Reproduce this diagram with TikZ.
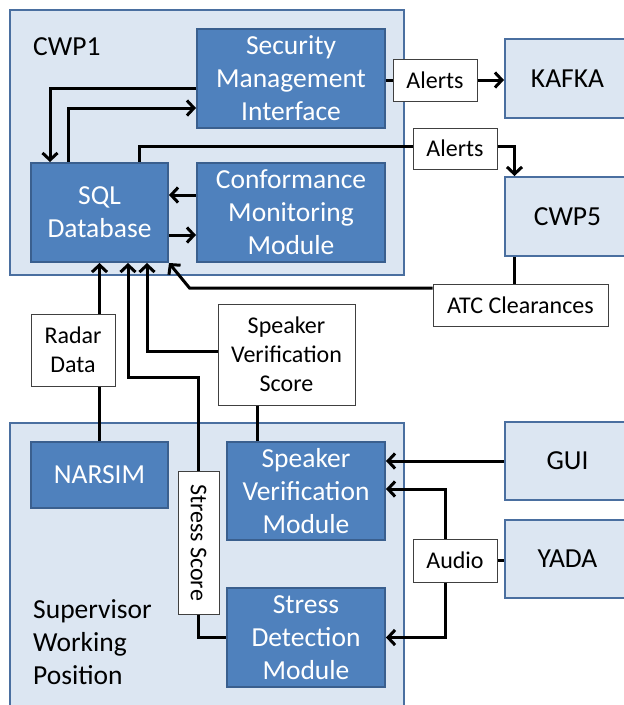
\documentclass[tikz,border=0pt]{standalone}
\usepackage{fontspec}
\setmainfont{Carlito}
\usetikzlibrary{arrows.meta}

\definecolor{modblue}{HTML}{4F81BD}
\definecolor{modframe}{HTML}{3A5F8E}
\definecolor{paleblue}{HTML}{DCE6F2}
\definecolor{paleframe}{HTML}{4A6FA0}
\definecolor{taggray}{HTML}{404040}

\newcommand{\boxfont}{\fontsize{27.5}{33}\selectfont}
\newcommand{\tagfont}{\fontsize{24}{29}\selectfont}

\tikzset{
  areabox/.style={draw=paleframe, fill=paleblue, line width=2.5pt, inner sep=0pt},
  modbox/.style={draw=modframe, fill=modblue, line width=2pt, text=white,
    align=center, font=\boxfont, inner sep=0pt},
  extbox/.style={draw=paleframe, fill=paleblue, line width=2pt,
    font=\boxfont, inner sep=0pt},
  tagbox/.style={draw=taggray, fill=white, line width=1pt, align=center,
    font=\tagfont, inner sep=0pt},
  wire/.style={line width=3pt},
  flow/.style={wire, -{Straight Barb[length=7pt,width=15pt,line width=3pt]}}
}

\begin{document}
\begin{tikzpicture}[x=1pt,y=-1pt]
			\useasboundingbox (0,0) rectangle (624,705);
			
			% working positions
			\node[areabox, minimum width=394, minimum height=265] (cwp1) at (207,142.5){};
			\node[areabox, minimum width=394, minimum height=292] (swp) at (207,569){};
			\node[font=\boxfont, anchor=west, inner sep=0pt] (cwp1name) at (33,47){CWP1};
			\node[font=\boxfont, anchor=west, align=left, inner sep=0pt] (swpname) at (33,642){Supervisor\\Working\\Position};
			
			% modules
			\node[modbox, minimum width=188, minimum height=99] (smi) at (291,78.5){Security\\Management\\Interface};
			\node[modbox, minimum width=137, minimum height=99] (sql) at (99.5,212.5){SQL\\Database};
			\node[modbox, minimum width=188, minimum height=99] (cmm) at (291,212.5){Conformance\\Monitoring\\Module};
			\node[modbox, minimum width=137, minimum height=66] (narsim) at (99.5,475){NARSIM};
			\node[modbox, minimum width=158, minimum height=98] (svm) at (306,491){Speaker\\Verification\\Module};
			\node[modbox, minimum width=158, minimum height=99] (sdm) at (306,637.5){Stress\\Detection\\Module};
			
			% outside systems
			\node[extbox, minimum width=125, minimum height=79] (kafka) at (567.5,78.5){KAFKA};
			\node[extbox, minimum width=125, minimum height=79] (cwp5) at (567.5,216.5){CWP5};
			\node[extbox, minimum width=125, minimum height=78] (gui) at (567.5,461){GUI};
			\node[extbox, minimum width=125, minimum height=78] (yada) at (567.5,559){YADA};
			
			% data labels
			\node[tagbox, minimum width=84, minimum height=42] (alerts1) at (435,80){Alerts};
			\node[tagbox, minimum width=84, minimum height=41] (alerts2) at (455,148.5){Alerts};
			\node[tagbox, minimum width=175, minimum height=42] (atc) at (520.5,305){ATC Clearances};
			\node[tagbox, minimum width=84, minimum height=72] (radar) at (73,350){Radar\\Data};
			\node[tagbox, minimum width=137, minimum height=101] (svs) at (286.5,354.5){Speaker\\Verification\\Score};
			\node[tagbox, minimum width=41, minimum height=143] (stress) at (198.5,542.5){\rotatebox{-90}{Stress Score}};
			\node[tagbox, minimum width=84, minimum height=43] (audio) at (455,560.5){Audio};
			
			\coordinate (c5top) at ([xshift=-53pt]cwp5.north);
			\coordinate (c5bot) at ([xshift=-53pt]cwp5.south);
			\coordinate (svsfoot) at ([xshift=-29.5pt]svs.south);
			
			% CWP1 links
			\draw [flow] ([yshift=-9.5pt]smi.west) -| ([xshift=-49.5pt]sql.north);
			\draw [flow] ([xshift=-31.5pt]sql.north) |- ([yshift=-29.5pt]smi.west);
			\draw [flow] ([yshift=17.5pt]cmm.west) -- ([yshift=17.5pt]sql.east);
			\draw [flow] ([yshift=-22.5pt]sql.east) -- ([yshift=-22.5pt]cmm.west);
			\draw [wire] (smi.east |- alerts1) -- (alerts1.west);
			\draw [flow] (alerts1.east) -- (alerts1.east -| kafka.west);
			\draw [wire] ([xshift=39.5pt]sql.north) |- ([yshift=2pt]alerts2.west);
			\draw [flow] ([yshift=2pt]alerts2.east) -| (c5top);
			\draw [wire] (c5bot) -- (c5bot |- atc.north);
			\draw [flow] ([yshift=17pt]atc.west) -- ++(-243,0) -- (sql.south east);
			
			% supervisor links
			\draw [wire] (narsim.north) -- (narsim.north |- radar.south);
			\draw [flow] (sql.south |- radar.north) -- (sql.south);
			\draw [flow] (stress.north) -- ++(0,-93) -| ([xshift=28.5pt]sql.south);
			\draw [wire] (stress.south) |- (sdm.west);
			\draw [flow] ([yshift=3.5pt]svs.west) -| ([xshift=47.5pt]sql.south);
			\draw [wire] (svsfoot) -- (svsfoot |- svm.north);
			\draw [flow] (gui.west) -- (gui.west -| svm.east);
			\draw [wire] (yada.west |- audio) -- (audio.east);
			\draw [flow] ([xshift=-10pt]audio.north) |- ([yshift=2pt]svm.east);
			\draw [flow] ([xshift=-10pt]audio.south) |- (sdm.east);
			\end{tikzpicture}
\end{document}
